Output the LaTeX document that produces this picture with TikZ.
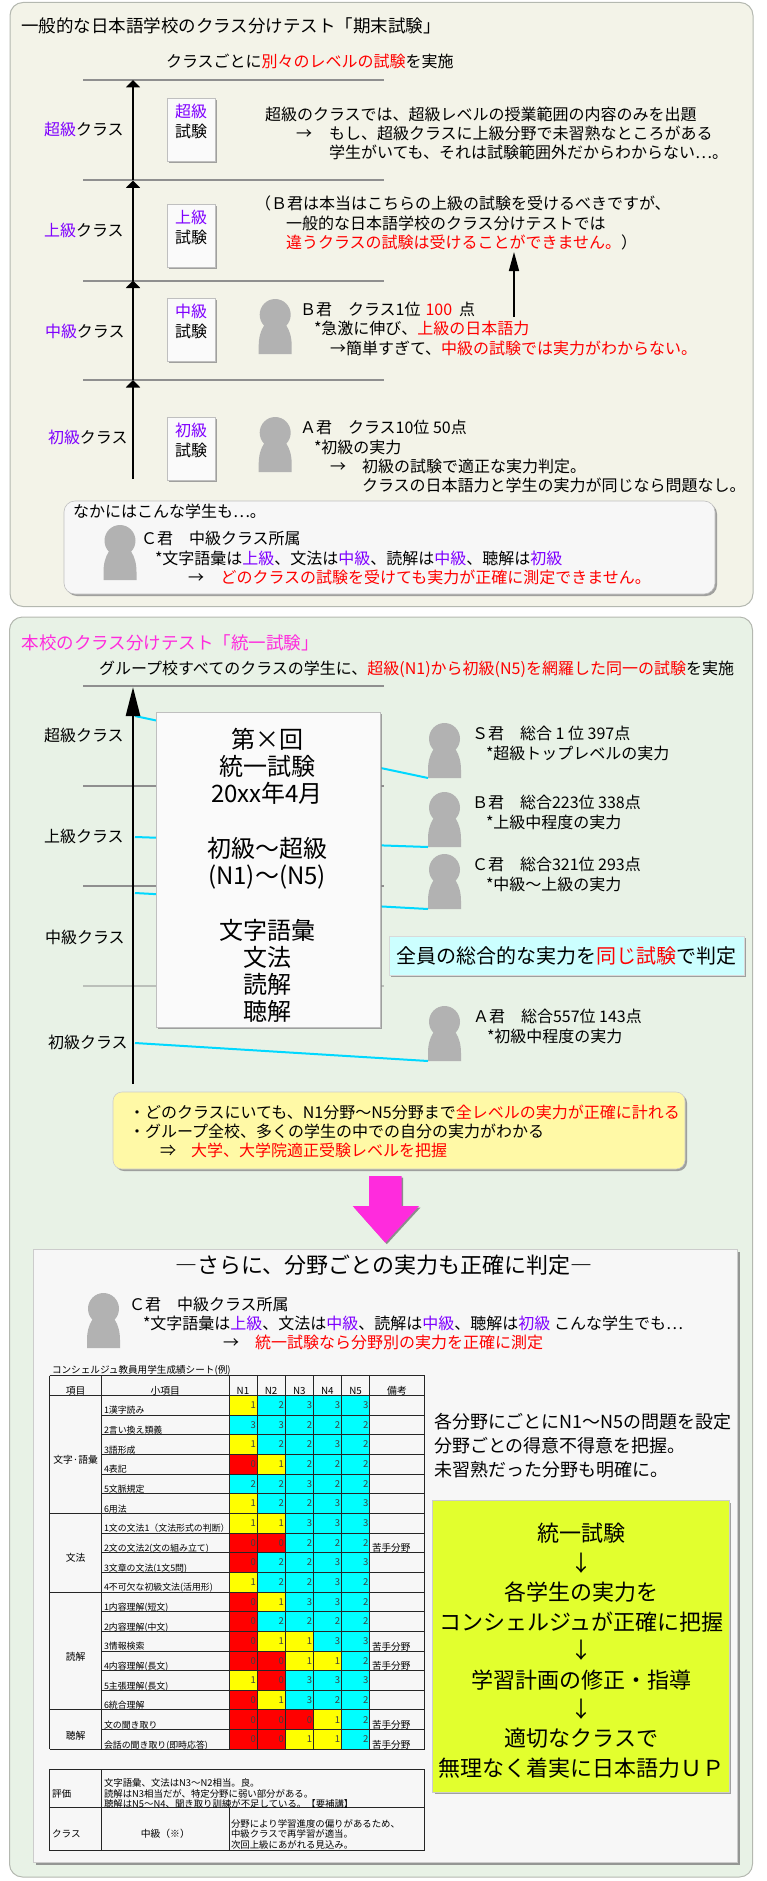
\documentclass[tikz,border=0pt]{standalone}
\usepackage{fontspec}
\setmainfont{Noto Sans CJK JP}
\usetikzlibrary{shadows,arrows.meta}
\definecolor{pnlA}{HTML}{F3F3E8}
\definecolor{pnlB}{HTML}{E8F2E6}
\definecolor{pnlEdge}{HTML}{B4B8B0}
\definecolor{purp}{HTML}{7F00FF}
\definecolor{magt}{HTML}{FF2BDD}
\definecolor{cyanl}{HTML}{00D8FF}
\definecolor{persn}{HTML}{B2B2B2}
\definecolor{hline}{HTML}{8F8F8F}
\definecolor{paper}{HTML}{FAFAFA}
\definecolor{pale}{HTML}{F7F7F7}
\definecolor{aqua}{HTML}{CCFFFF}
\definecolor{butter}{HTML}{FFF9A6}
\definecolor{lime}{HTML}{E2FF2E}
\definecolor{cellR}{HTML}{FF0000}
\definecolor{cellY}{HTML}{FFFF00}
\definecolor{cellC}{HTML}{00FFFF}
\definecolor{pureR}{HTML}{FF0000}
\newcommand{\cpu}[1]{\textcolor{purp}{#1}}
\newcommand{\crd}[1]{\textcolor{pureR}{#1}}
\tikzset{
 x=1pt,y=-1pt,
 sh/.style={drop shadow={shadow xshift=2pt,shadow yshift=-2pt,fill=black!45,opacity=.8}},
 box/.style={rectangle,inner sep=0,outer sep=0},
 txtA/.style={anchor=base west,inner sep=0,outer sep=0,font=\fontsize{16}{18}\selectfont,yshift=-5.6pt},
 txtT/.style={txtA,font=\fontsize{17.5}{20}\selectfont,yshift=-6pt},
 txtC/.style={anchor=base,inner sep=0,outer sep=0,font=\fontsize{16}{18}\selectfont,yshift=-5.6pt},
 txtBig/.style={txtC,font=\fontsize{24}{26}\selectfont,yshift=-8.4pt},
 txtFlow/.style={txtC,font=\fontsize{22}{24}\selectfont,yshift=-7.7pt},
 txtR/.style={txtA,font=\fontsize{18}{20}\selectfont,yshift=-6.3pt},
 txtS/.style={txtA,font=\fontsize{9.6}{11}\selectfont,yshift=-3.4pt},
 txtHead/.style={txtC,font=\fontsize{9.8}{11}\selectfont,yshift=-3.4pt},
 levelline/.style={draw=hline,line width=2pt},
 risearrow/.style={draw=black,line width=2.6pt,-{Triangle[length=7.5pt,width=14pt]}},
 scoreline/.style={draw=cyanl,line width=2pt},
 gridl/.style={draw=black!85,line width=.9pt},
}
\newcommand{\bx}[6]{\node (#1) [box,#6,minimum width={(#4-#2)*1pt},minimum height={(#5-#3)*1pt}] at ({(#2+#4)/2},{(#3+#5)/2}) {};}
\newcommand{\person}[3]{\begin{scope}[shift={(#2,#3)}]
 \coordinate (#1) at (0,55);
 \fill[persn] (0,55) -- (0,47) .. controls (0,30) and (8,20) .. (16.5,20) .. controls (25,20) and (33,30) .. (33,47) -- (33,55) -- cycle;
 \fill[persn] (16.5,15.7) ellipse [x radius=15.5,y radius=15.7];
\end{scope}}
\begin{document}
\begin{tikzpicture}
\useasboundingbox (0,0) rectangle (767,1881);
% ---------- panel 1
\node (panelA) [box,fill=pnlA,draw=pnlEdge,line width=1pt,rounded corners=13pt,minimum width=743pt,minimum height=604pt] at (381.5,304.5) {};
\node (titleA) [txtT] at (21,21) {一般的な日本語学校のクラス分けテスト「期末試験」};
\node (leadA) [txtA] at (166,62) {クラスごとに\crd{別々のレベルの試験}を実施};
\foreach \nm/\yy in {a/80,b/180.5,c/280.5,d/380}{
 \coordinate (L\nm) at (83,\yy); \coordinate (R\nm) at (384,\yy); \coordinate (M\nm) at (133,\yy);
 \draw[levelline] (L\nm) -- (R\nm);
}
\coordinate (Me) at (133,479);
\draw[risearrow] (Me) -- (Md);
\draw[risearrow] (Md) -- (Mc);
\draw[risearrow] (Mc) -- (Mb);
\draw[risearrow] (Mb) -- (Ma);
\node (lS) [txtA] at (44,130) {\cpu{超級}クラス};
\node (lJ) [txtA] at (44,230.5) {\cpu{上級}クラス};
\node (lM) [txtA] at (45,332) {\cpu{中級}クラス};
\node (lB) [txtA] at (48,437.5) {\cpu{初級}クラス};
\foreach \nm/\t/\lv in {s/98/超級,j/204/上級,m/298/中級,b/417/初級}{
 \bx{card\nm}{167}{\t}{215}{\t+63}{fill=paper,draw=black!25,line width=.6pt,sh}
 \node (cl\nm) [txtC] at (191,\t+14) {\cpu{\lv}};
 \node (ct\nm) [txtC] at (191,\t+34) {試験};
}
\node (s1) [txtA] at (265,115) {超級のクラスでは、超級レベルの授業範囲の内容のみを出題};
\node (s2a) [txtA] at (296,134) {→};
\node (s2) [txtA] at (329,134) {もし、超級クラスに上級分野で未習熟なところがある};
\node (s3) [txtA] at (329,153) {学生がいても、それは試験範囲外だからわからない…。};
\node (j1) [txtA] at (255,204) {（Ｂ君は本当はこちらの上級の試験を受けるべきですが、};
\node (j2) [txtA] at (286,223.5) {一般的な日本語学校のクラス分けテストでは};
\node (j3) [txtA] at (286,243) {\crd{違うクラスの試験は受けることができません。}）};
\coordinate (upFrom) at (514,317);
\coordinate (upTo) at (514,252);
\draw[line width=1.5pt,-{Triangle[length=19pt,width=10pt]}] (upFrom) -- (upTo);
\person{pB}{258.7}{299}
\node (b1) [txtA] at (300,310) {Ｂ君　クラス1位\hspace{5pt}\crd{100}\hspace{7pt}点};
\node (b2) [txtA] at (314,329) {*急激に伸び、\crd{上級の日本語力}};
\node (b3) [txtA] at (330,349) {→簡単すぎて、\crd{中級の試験では実力がわからない。}};
\person{pA}{258.7}{417}
\node (a1) [txtA] at (300,428) {Ａ君　クラス10位 50点};
\node (a2) [txtA] at (314,447.5) {*初級の実力};
\node (a3a) [txtA] at (330,467) {→};
\node (a3) [txtA] at (362,467) {初級の試験で適正な実力判定。};
\node (a4) [txtA] at (362,486) {クラスの日本語力と学生の実力が同じなら問題なし。};
\bx{boxC}{64}{501}{715}{594}{fill=pale,draw=black!25,line width=.6pt,rounded corners=11pt,sh}
\node (c0) [txtA] at (73,512) {なかにはこんな学生も…。};
\person{pC}{103.5}{525}
\node (c1) [txtA] at (141,539) {Ｃ君　中級クラス所属};
\node (c2) [txtA] at (155,559) {*文字語彙は\cpu{上級}、文法は\cpu{中級}、読解は\cpu{中級}、聴解は\cpu{初級}};
\node (c3a) [txtA] at (188,578) {→};
\node (c3) [txtA] at (220.5,578) {\crd{どのクラスの試験を受けても実力が正確に測定できません。}};
% ---------- panel 2
\node (panelB) [box,fill=pnlB,draw=pnlEdge,line width=1pt,rounded corners=13pt,minimum width=743pt,minimum height=1260pt] at (381,1247) {};
\node (titleB) [txtT,text=magt] at (21.5,638) {本校のクラス分けテスト「統一試験」};
\node (leadB) [txtA] at (99,669) {グループ校すべてのクラスの学生に、\crd{超級(N1)から初級(N5)を網羅した同一の試験}を実施};
\foreach \nm/\yy/\op in {p/686/100,q/786/100,r/886/100,s/986/50}{
 \coordinate (G\nm) at (83,\yy); \coordinate (H\nm) at (384,\yy);
 \draw[levelline,draw=hline!\op!pnlB] (G\nm) -- (H\nm);
}
\coordinate (Abot) at (133,1084);
\coordinate (Atop) at (133,687);
\coordinate (sf) at (135,716); \coordinate (bf) at (135,837); \coordinate (cf) at (135,893); \coordinate (af) at (135,1043);
\person{ps}{428}{723}
\person{pb}{428}{792}
\person{pc}{428}{854}
\person{pa}{428}{1006}
\draw[scoreline] (sf) -- (ps);
\draw[scoreline] (bf) -- (pb);
\draw[scoreline] (cf) -- (pc);
\draw[scoreline] (af) -- (pa);
\draw[line width=2.6pt,-{Triangle[length=29pt,width=14pt]}] (Abot) -- (Atop);
\node (l2S) [txtA] at (44,736) {超級クラス};
\node (l2J) [txtA] at (44,837) {上級クラス};
\node (l2M) [txtA] at (45,938) {中級クラス};
\node (l2B) [txtA] at (48,1043) {初級クラス};
\bx{examB}{156}{712}{380}{1027}{fill=paper,draw=black!25,line width=.6pt,sh}
\node (e1) [txtBig] at (267,734) {第×回};
\node (e2) [txtBig] at (267,761) {統一試験};
\node (e3) [txtBig] at (267,788) {20xx年4月};
\node (e4) [txtBig] at (267,843) {初級～超級};
\node (e5) [txtBig] at (267,870) {(N1)～(N5)};
\node (e6) [txtBig] at (267,925) {文字語彙};
\node (e7) [txtBig] at (267,952) {文法};
\node (e8) [txtBig] at (267,979) {読解};
\node (e9) [txtBig] at (267,1006) {聴解};
\node (ts1) [txtA] at (472,734) {Ｓ君　総合 1 位 397点};
\node (ts2) [txtA] at (486,754) {*超級トップレベルの実力};
\node (tb1) [txtA] at (472,803) {Ｂ君　総合223位 338点};
\node (tb2) [txtA] at (486,823) {*上級中程度の実力};
\node (tc1) [txtA] at (472,865) {Ｃ君　総合321位 293点};
\node (tc2) [txtA] at (486,885) {*中級～上級の実力};
\node (ta1) [txtA] at (473,1017) {Ａ君　総合557位 143点};
\node (ta2) [txtA] at (487,1037) {*初級中程度の実力};
\node (aquaBox) [box,fill=aqua,draw=black!15,line width=.6pt,sh,minimum width=355pt,minimum height=39pt,font=\fontsize{20}{22}\selectfont] at (566.5,955.5) {全員の総合的な実力を\crd{同じ試験}で判定};
\bx{yellowBox}{113}{1092}{685}{1169}{fill=butter,draw=black!20,line width=.6pt,rounded corners=9pt,sh}
\node (y1) [txtA] at (129,1113) {・どのクラスにいても、N1分野～N5分野まで\crd{全レベルの実力が正確に計れる}};
\node (y2) [txtA] at (129,1132) {・グループ全校、多くの学生の中での自分の実力がわかる};
\node (y3a) [txtA] at (160,1151) {⇒};
\node (y3) [txtA] at (191,1151) {\crd{大学、大学院適正受験レベルを把握}};
\fill[black!45] (370.5,1177.5) -- (403.2,1177.5) -- (403.2,1207.5) -- (420.5,1207.5) -- (386.8,1244.2) -- (354.2,1207.5) -- (370.5,1207.5) -- cycle;
\fill[magt] (369,1176) -- (401.7,1176) -- (401.7,1206) -- (419,1206) -- (385.3,1242.7) -- (352.7,1206) -- (369,1206) -- cycle;
\bx{sheet}{33}{1249}{737}{1862}{fill=pale,draw=black!20,line width=.6pt,drop shadow={shadow xshift=3pt,shadow yshift=-3pt,fill=black!50,opacity=.8}}
\node (h0) [txtA,font=\fontsize{22}{24}\selectfont,yshift=-2pt] at (175,1266) {―さらに、分野ごとの実力も正確に判定―};
\person{pC2}{87}{1293}
\node (u1) [txtA] at (129,1305) {Ｃ君　中級クラス所属};
\node (u2) [txtA] at (143,1324) {*文字語彙は\cpu{上級}、文法は\cpu{中級}、読解は\cpu{中級}、聴解は\cpu{初級} こんな学生でも…};
\node (u3a) [txtA] at (223,1343) {→};
\node (u3) [txtA] at (255,1343) {\crd{統一試験なら分野別の実力を正確に測定}};
\node (tcap) [txtS] at (52,1364.5) {コンシェルジュ教員用学生成績シート(例)};
% table
\foreach \lbl [count=\ci from 0] in {N1,N2,N3,N4,N5}{
 \node (hd\ci) [txtHead] at ({243+\ci*28.14},1385.5) {\lbl};
}
\node (hdA) [txtHead] at (75.7,1385.5) {項目};
\node (hdB) [txtHead] at (165.3,1385.5) {小項目};
\node (hdC) [txtHead] at (397,1385.5) {備考};
\foreach \rr/\lbl/\va/\vb/\vc/\vd/\ve/\nt in {
1/1漢字読み/1/2/3/3/3/,
2/2言い換え類義/3/3/2/2/2/,
3/3語形成/1/2/2/3/2/,
4/4表記/0/1/2/2/2/,
5/5文脈規定/2/2/3/2/2/,
6/6用法/1/2/2/3/3/,
7/1文の文法1（文法形式の判断）/1/1/3/3/3/,
8/2文の文法2(文の組み立て)/0/0/2/2/2/苦手分野,
9/3文章の文法(1文5問)/0/2/2/3/3/,
10/4不可欠な初級文法(活用形)/1/2/2/3/2/,
11/1内容理解(短文)/0/1/3/3/2/,
12/2内容理解(中文)/0/2/2/2/2/,
13/3情報検索/0/1/1/3/3/苦手分野,
14/4内容理解(長文)/0/0/1/1/2/苦手分野,
15/5主張理解(長文)/1/0/3/3/3/,
16/6統合理解/0/1/3/2/2/,
17/文の聞き取り/0/0/0/1/2/苦手分野,
18/会話の聞き取り(即時応答)/0/0/1/1/2/苦手分野}{
 \pgfmathsetmacro{\ytop}{1375.7+\rr*19.66}
 \pgfmathsetmacro{\ymid}{\ytop+9.83}
 \node (sub\rr) [txtS,font=\fontsize{8.9}{10}\selectfont,yshift=.3pt] at (104,\ymid) {\lbl};
 \foreach \vv [count=\ci from 0] in {\va,\vb,\vc,\vd,\ve}{
  \ifcase\vv\relax\def\cc{cellR}\or\def\cc{cellY}\else\def\cc{cellC}\fi
  \pgfmathsetmacro{\xl}{229+\ci*28.14}
  \fill[\cc] (\xl,\ytop) rectangle (\xl+28.14,\ytop+19.66);
  \node (n\rr-\ci) [anchor=base east,inner sep=0,font=\fontsize{9.5}{10}\selectfont,text=black!75,yshift=-3.3pt] at (\xl+27,\ymid) {\vv};
 }
 \node (note\rr) [txtS] at (372,\ymid) {\nt};
}
\foreach \rr in {0,1,...,19}{
 \pgfmathsetmacro{\yy}{1375.7+\rr*19.66}
 \draw[gridl] (101.7,\yy) -- (424.7,\yy);
}
\foreach \rr in {0,1,7,11,17,19}{
 \pgfmathsetmacro{\yy}{1375.7+\rr*19.66}
 \draw[gridl] (49.7,\yy) -- (101.7,\yy);
}
\foreach \xx in {49.7,101.7,229,257.14,285.28,313.42,341.56,369.7,424.7}{
 \draw[gridl] (\xx,1375.7) -- (\xx,1749.3);
}
\node (g1) [txtHead] at (75.7,1454) {文字·語彙};
\node (g2) [txtHead] at (75.7,1552) {文法};
\node (g3) [txtHead] at (75.7,1651) {読解};
\node (g4) [txtHead] at (75.7,1730) {聴解};
% lower table
\draw[gridl] (49.7,1769.3) rectangle (424.7,1850);
\draw[gridl] (49.7,1807.7) -- (424.7,1807.7);
\draw[gridl] (101.7,1769.3) -- (101.7,1850);
\draw[gridl] (229,1807.7) -- (229,1850);
\node (ev) [txtS] at (52,1788.7) {評価};
\node (ev1) [txtS,font=\fontsize{9.4}{10}\selectfont] at (104,1777.7) {文字語彙、文法はN3～N2相当。良。};
\node (ev2) [txtS,font=\fontsize{9.4}{10}\selectfont] at (104,1788.3) {読解はN3相当だが、特定分野に弱い部分がある。};
\node (ev3) [txtS,font=\fontsize{9.4}{10}\selectfont] at (104,1798.7) {聴解はN5～N4、聞き取り訓練が不足している。【要補講】};
\node (cl) [txtS] at (52,1828.7) {クラス};
\node (cl0) [txtHead] at (165.3,1828.7) {中級（※）};
\node (cl1) [txtS,font=\fontsize{9.4}{10}\selectfont] at (231,1818) {分野により学習進度の偏りがあるため、};
\node (cl2) [txtS,font=\fontsize{9.4}{10}\selectfont] at (231,1828.7) {中級クラスで再学習が適当。};
\node (cl3) [txtS,font=\fontsize{9.4}{10}\selectfont] at (231,1839.3) {次回上級にあがれる見込み。};
% right side
\node (r1) [txtR] at (434,1417) {各分野にごとにN1～N5の問題を設定};
\node (r2) [txtR] at (434,1441) {分野ごとの得意不得意を把握。};
\node (r3) [txtR] at (434,1465) {未習熟だった分野も明確に。};
\bx{limeBox}{432.7}{1500.7}{729.3}{1792}{fill=lime,draw=black!20,line width=.6pt,sh}
\node (f1) [txtFlow] at (581.7,1528) {統一試験};
\node (f2) [txtFlow] at (581.7,1558) {↓};
\node (f3) [txtFlow] at (581.7,1587) {各学生の実力を};
\node (f4) [txtFlow] at (581.7,1617) {コンシェルジュが正確に把握};
\node (f5) [txtFlow] at (581.7,1645) {↓};
\node (f6) [txtFlow] at (581.7,1675) {学習計画の修正・指導};
\node (f7) [txtFlow] at (581.7,1704) {↓};
\node (f8) [txtFlow] at (581.7,1733) {適切なクラスで};
\node (f9) [txtFlow] at (581.7,1763) {無理なく着実に日本語力ＵＰ};
\end{tikzpicture}
\end{document}
